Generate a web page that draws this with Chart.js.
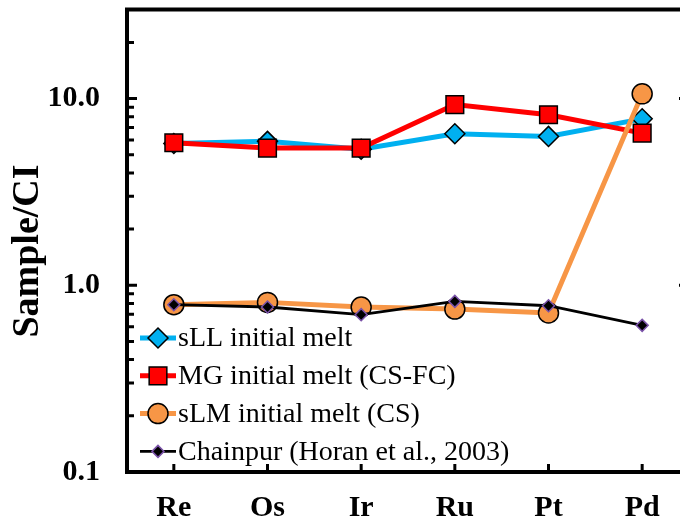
<!DOCTYPE html>
<html>
<head>
<meta charset="utf-8">
<script src="https://cdn.jsdelivr.net/npm/chart.js"></script>
<style>
  html, body { margin: 0; padding: 0; background: #fff; overflow: hidden; }
  #wrap { width: 680px; height: 527px; overflow: hidden; }
  canvas { display: block; }
</style>
</head>
<body>
<div id="wrap"><canvas id="pgeChart" width="700" height="527"></canvas></div>
<script>
// PGE patterns normalised to CI chondrite
const elements = ['Re', 'Os', 'Ir', 'Ru', 'Pt', 'Pd'];
const sLL = [5.75, 5.90, 5.35, 6.48, 6.27, 7.79];
const mgMelt = [5.80, 5.43, 5.43, 9.29, 8.19, 6.53];
const sLM = [0.787, 0.81, 0.765, 0.746, 0.711, 10.6];
const chainpur = [0.787, 0.765, 0.696, 0.82, 0.777, 0.61];
const seriesNames = ['sLL initial melt', 'MG initial melt (CS-FC)', 'sLM initial melt (CS)', 'Chainpur (Horan et al., 2003)'];
const yLabelTicks = [0.1, 1, 10];
const yMinorTicks = [0.2, 0.3, 0.4, 0.5, 0.6, 0.7, 0.8, 0.9, 2, 3, 4, 5, 6, 7, 8, 9, 20];

const serif = '"Liberation Serif", "Times New Roman", serif';

const styles = [
  { color: '#00b0f0', width: 5, point: 'rectRot', radius: 10, fill: '#00b0f0', edge: '#000', edgeW: 1.5 },
  { color: '#ff0000', width: 5, point: 'rect', radius: 12.5, fill: '#ff0000', edge: '#000', edgeW: 1.5 },
  { color: '#f79646', width: 5, point: 'circle', radius: 10, fill: '#f79646', edge: '#000', edgeW: 1.5 },
  { color: '#000000', width: 2.8, point: 'rectRot', radius: 6, fill: '#000', edge: '#7a52a8', edgeW: 1.5 }
];
const seriesData = [sLL, mgMelt, sLM, chainpur];

const datasets = seriesData.map((d, i) => ({
  label: seriesNames[i],
  data: d,
  borderColor: styles[i].color,
  borderWidth: styles[i].width,
  pointStyle: styles[i].point,
  pointRadius: styles[i].radius,
  pointBackgroundColor: styles[i].fill,
  pointBorderColor: styles[i].edge,
  pointBorderWidth: styles[i].edgeW,
  tension: 0,
  clip: false,
  order: 4 - i
}));

function marker(ctx, s, x, y) {
  ctx.fillStyle = s.fill;
  ctx.strokeStyle = s.edge;
  ctx.lineWidth = s.edgeW;
  if (Chart.helpers && Chart.helpers.drawPoint) {
    Chart.helpers.drawPoint(ctx, { pointStyle: s.point, radius: s.radius, rotation: 0, borderWidth: s.edgeW }, x, y);
    return;
  }
  ctx.beginPath();
  if (s.point === 'circle') {
    ctx.arc(x, y, s.radius, 0, Math.PI * 2);
  } else if (s.point === 'rect') {
    const h = s.radius * Math.SQRT1_2;
    ctx.rect(x - h, y - h, 2 * h, 2 * h);
  } else {
    ctx.moveTo(x, y - s.radius); ctx.lineTo(x + s.radius, y);
    ctx.lineTo(x, y + s.radius); ctx.lineTo(x - s.radius, y);
    ctx.closePath();
  }
  ctx.fill();
  ctx.stroke();
}

// frame plus inward tick marks
const framePlugin = {
  id: 'frame',
  beforeDatasetsDraw(chart) {
    const { ctx, chartArea: a, scales } = chart;
    ctx.save();
    ctx.strokeStyle = '#000';
    ctx.lineWidth = 3;
    ctx.beginPath();
    const yTick = (v, len) => {
      const p = scales.y.getPixelForValue(v);
      ctx.moveTo(a.left, p); ctx.lineTo(a.left + len, p);
      ctx.moveTo(a.right, p); ctx.lineTo(a.right - len, p);
    };
    yLabelTicks.forEach(v => yTick(v, 10));
    yMinorTicks.forEach(v => yTick(v, 7));
    elements.forEach((e, i) => {
      const p = scales.x.getPixelForValue(i);
      ctx.moveTo(p, a.bottom); ctx.lineTo(p, a.bottom - 8);
    });
    ctx.stroke();
    ctx.lineWidth = 4;
    ctx.strokeRect(a.left, a.top, a.right - a.left, a.bottom - a.top);
    ctx.restore();
  }
};

const legendPlugin = {
  id: 'innerLegend',
  afterDatasetsDraw(chart) {
    const { ctx } = chart;
    ctx.save();
    ctx.font = '28px ' + serif;
    ctx.textBaseline = 'middle';
    ctx.textAlign = 'left';
    seriesNames.forEach((name, i) => {
      const s = styles[i];
      const y = 338 + i * 37.8;
      ctx.strokeStyle = s.color;
      ctx.lineWidth = s.width;
      ctx.beginPath();
      ctx.moveTo(140, y); ctx.lineTo(176, y);
      ctx.stroke();
      marker(ctx, s, 158, y);
      ctx.fillStyle = '#000';
      ctx.fillText(name, 178, y + 1);
    });
    ctx.restore();
  },
  afterDraw(chart) {
    const { ctx } = chart;
    ctx.save();
    ctx.translate(28, 251);
    ctx.rotate(-Math.PI / 2);
    ctx.font = 'bold 38px ' + serif;
    ctx.fillStyle = '#000';
    ctx.textAlign = 'center';
    ctx.textBaseline = 'middle';
    ctx.fillText('Sample/CI', 0, 0);
    ctx.restore();
  }
};

new Chart(document.getElementById('pgeChart'), {
  type: 'line',
  data: { labels: elements, datasets: datasets },
  options: {
    responsive: false,
    animation: false,
    devicePixelRatio: 1,
    layout: { autoPadding: false, padding: { top: 9.5, right: 11, left: 0, bottom: 0 } },
    plugins: { legend: { display: false }, tooltip: { enabled: false } },
    scales: {
      x: {
        type: 'category',
        offset: true,
        grid: { display: false, drawTicks: false },
        border: { display: false },
        ticks: {
          color: '#000',
          font: { family: serif, size: 30, weight: 'bold' },
          padding: 18,
          maxRotation: 0,
          autoSkip: false
        },
        afterFit(scale) {
          scale.height = 55;
          scale.paddingLeft = 0;
          scale.paddingRight = 0;
        }
      },
      y: {
        type: 'logarithmic',
        min: 0.1,
        max: 30,
        grid: { display: false, drawTicks: false },
        border: { display: false },
        ticks: {
          color: '#000',
          font: { family: serif, size: 30, weight: 'bold' },
          padding: 27,
          autoSkip: false,
          callback(value) {
            const hit = yLabelTicks.find(t => Math.abs(t - value) < 1e-9);
            return hit === undefined ? '' : hit.toFixed(1);
          }
        },
        afterFit(scale) {
          scale.width = 127;
          scale.paddingTop = 0;
          scale.paddingBottom = 0;
        }
      }
    }
  },
  plugins: [framePlugin, legendPlugin]
});
</script>
</body>
</html>
